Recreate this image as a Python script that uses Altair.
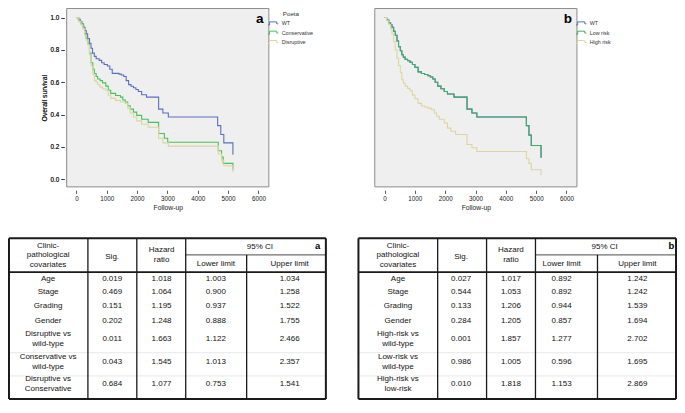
import altair as alt
import pandas as pd

# ---------------- Kaplan-Meier curves ----------------
a_wt_t = [0, 60, 120, 180, 237, 280, 323, 370, 430, 480, 530, 590, 650, 750, 830, 914, 1020, 1100, 1180, 1400,
          1480, 1560, 1640, 1720, 1800, 1880, 1960, 2040, 2150, 2310, 2710, 2850, 3030, 4656, 4760, 4860, 5160]
a_wt_s = [1.0, 0.99, 0.975, 0.96, 0.94, 0.92, 0.90, 0.87, 0.84, 0.81, 0.78, 0.76, 0.745, 0.735, 0.72, 0.71, 0.70, 0.68, 0.655, 0.65,
          0.645, 0.635, 0.61, 0.585, 0.575, 0.566, 0.555, 0.543, 0.523, 0.508, 0.434, 0.41, 0.385, 0.332, 0.277, 0.225, 0.152]

a_con_t = [0, 80, 150, 215, 270, 320, 376, 430, 484, 540, 591, 650, 700, 780, 860, 968, 1050, 1130, 1290, 1450,
           1530, 1610, 1690, 1774, 1880, 1989, 2150, 2366, 2710, 2900, 3010, 4677, 4785, 4840, 5160]
a_con_s = [1.0, 0.98, 0.96, 0.94, 0.90, 0.87, 0.84, 0.78, 0.72, 0.68, 0.654, 0.635, 0.62, 0.61, 0.596, 0.576, 0.55, 0.531, 0.518, 0.508,
           0.49, 0.478, 0.455, 0.434, 0.415, 0.395, 0.371, 0.352, 0.283, 0.254, 0.229, 0.176, 0.137, 0.098, 0.059]

a_dis_t = [0, 80, 150, 215, 270, 320, 376, 430, 484, 540, 591, 650, 700, 780, 860, 968, 1050, 1130, 1290, 1450,
           1610, 1690, 1774, 1880, 1989, 2150, 2366, 2710, 2850, 3030, 4677, 4785, 4860, 5160]
a_dis_s = [1.0, 0.975, 0.955, 0.93, 0.89, 0.86, 0.83, 0.77, 0.70, 0.65, 0.61, 0.60, 0.585, 0.57, 0.56, 0.55, 0.52, 0.50, 0.488, 0.478,
           0.469, 0.44, 0.41, 0.385, 0.361, 0.34, 0.322, 0.254, 0.225, 0.205, 0.156, 0.117, 0.084, 0.045]

b_low_t = [0, 70, 140, 200, 247, 300, 355, 410, 462, 520, 570, 620, 677, 760, 839, 920, 1000, 1107, 1215, 1320,
           1430, 1510, 1591, 1670, 1753, 1860, 1968, 2075, 2290, 2720, 2882, 3043, 4677, 4763, 4839, 5161]
b_low_s = [1.0, 0.985, 0.967, 0.955, 0.94, 0.915, 0.89, 0.855, 0.82, 0.795, 0.77, 0.755, 0.742, 0.733, 0.723, 0.71, 0.693, 0.664, 0.654, 0.648,
           0.64, 0.632, 0.62, 0.60, 0.576, 0.56, 0.543, 0.527, 0.508, 0.434, 0.41, 0.385, 0.332, 0.273, 0.209, 0.131]

# WT curve in panel b lies underneath the low-risk curve
b_wt_t = [0, 70, 140, 200, 247, 300, 355, 410, 462, 520, 570, 620, 677, 760, 839, 920, 1000, 1107, 1215, 1320,
          1430, 1510, 1591, 1670, 1753, 1860, 1968, 2075, 2290, 2720, 2882, 3043, 4677, 4763, 4839, 5161]
b_wt_s = [1.0, 0.985, 0.967, 0.955, 0.94, 0.915, 0.89, 0.855, 0.82, 0.795, 0.77, 0.755, 0.742, 0.733, 0.723, 0.71, 0.693, 0.664, 0.654, 0.648,
          0.64, 0.632, 0.62, 0.60, 0.576, 0.56, 0.543, 0.527, 0.508, 0.434, 0.41, 0.385, 0.332, 0.273, 0.209, 0.135]

b_high_t = [0, 70, 140, 200, 247, 300, 355, 410, 462, 520, 570, 620, 677, 760, 839, 920, 1000, 1107, 1215, 1320,
            1430, 1540, 1645, 1720, 1806, 1968, 2075, 2183, 2344, 2720, 2882, 3043, 4677, 4763, 4839, 5161]
b_high_s = [1.0, 0.98, 0.957, 0.93, 0.898, 0.85, 0.80, 0.75, 0.703, 0.66, 0.615, 0.595, 0.576, 0.562, 0.547, 0.52, 0.498, 0.469, 0.453, 0.447,
            0.44, 0.43, 0.41, 0.39, 0.371, 0.348, 0.316, 0.297, 0.277, 0.215, 0.195, 0.172, 0.127, 0.098, 0.059, 0.025]

groups_a = ["WT", "Conservative", "Disruptive"]
groups_b = ["WT", "Low risk", "High risk"]
y_ticks = [0.0, 0.2, 0.4, 0.6, 0.8, 1.0]
x_ticks = [0, 1000, 2000, 3000, 4000, 5000, 6000]

# ---------------- Cox regression tables ----------------
covariates_a = ["Age", "Stage", "Grading", "Gender", "Disruptive vs\nwild-type",
                "Conservative vs\nwild-type", "Disruptive vs\nConservative"]
sig_a = [0.019, 0.469, 0.151, 0.202, 0.011, 0.043, 0.684]
hr_a = [1.018, 1.064, 1.195, 1.248, 1.663, 1.545, 1.077]
lower_a = [1.003, 0.900, 0.937, 0.888, 1.122, 1.013, 0.753]
upper_a = [1.034, 1.258, 1.522, 1.755, 2.466, 2.357, 1.541]

covariates_b = ["Age", "Stage", "Grading", "Gender", "High-risk vs\nwild-type",
                "Low-risk vs\nwild-type", "High-risk vs\nlow-risk"]
sig_b = [0.027, 0.544, 0.133, 0.284, 0.001, 0.986, 0.010]
hr_b = [1.017, 1.053, 1.206, 1.205, 1.857, 1.005, 1.818]
lower_b = [0.892, 0.892, 0.944, 0.857, 1.277, 0.596, 1.153]
upper_b = [1.242, 1.242, 1.539, 1.694, 2.702, 1.695, 2.869]

header_cov = "Clinic-\npathological\ncovariates"
header_sig = "Sig."
header_hr = "Hazard\nratio"
header_ci = "95% CI"
header_lo = "Lower limit"
header_up = "Upper limit"

# ---------------- layout (reference pixels, mapped by scales) ----------------
FONT = "Liberation Sans"
W, H = 669, 392
REF_W, REF_H = 684, 412


def sx(v):
    return v * W / REF_W


def sy(v):
    return v * H / REF_H


LX = alt.Scale(domain=[0, REF_W], range=[0, W], nice=False, zero=False)
LY = alt.Scale(domain=[0, REF_H], range=[0, H], nice=False, zero=False)

T_DOM = [-322, 6345]
S_DOM = [-0.047, 1.056]
PANEL_A = (60, 266.7)
PANEL_B = (375, 581.7)
PANEL_TOP, PANEL_BOT = 0.5, 188

BLUE, GREEN, BEIGE = "#5b6fc2", "#46c257", "#ddd5a2"
GREEN_B = "#3fae63"
SYMBOL = "M-1.9,0.55L-1.3,0.55L-1.3,-0.55L1.3,-0.55L1.3,0.15L1.9,0.15"
TABLE_LH = 9.8  # svg px


def km_frame(names, ts_list, ss_list):
    rows = []
    for n, ts, ss in zip(names, ts_list, ss_list):
        for t, s in zip(ts, ss):
            rows.append({"series": n, "t": t, "s": s})
    return pd.DataFrame(rows)


def km_panel(df, under_df, under_color, names, colors, panel, legend_x):
    xs = alt.Scale(domain=T_DOM, range=[sx(panel[0]), sx(panel[1])], nice=False, zero=False)
    ys = alt.Scale(domain=S_DOM, range=[sy(PANEL_BOT), sy(PANEL_TOP)], nice=False, zero=False)
    out = []
    bg = alt.Chart(pd.DataFrame({"x0": [T_DOM[0]], "x1": [T_DOM[1]], "y0": [S_DOM[0]], "y1": [S_DOM[1]]})).mark_rect(
        fill="#efefef", stroke="#8c8c8c", strokeWidth=1
    ).encode(
        x=alt.X("x0:Q", scale=xs, axis=None), x2="x1:Q",
        y=alt.Y("y0:Q", scale=ys, axis=None), y2="y1:Q",
    )
    out.append(bg)
    if under_df is not None:
        out.append(alt.Chart(under_df).mark_line(interpolate="step-after", strokeWidth=1.1, color=under_color).encode(
            x=alt.X("t:Q", scale=xs, axis=None),
            y=alt.Y("s:Q", scale=ys, axis=None),
        ))
    lines = alt.Chart(df).mark_line(interpolate="step-after", strokeWidth=1.1).encode(
        x=alt.X("t:Q", scale=xs, axis=alt.Axis(
            orient="bottom", offset=sy(191.5) - H, values=x_ticks, format="d",
            tickSize=sy(3.4), labelPadding=sy(2), grid=False, domain=False,
            title="Follow-up", titlePadding=sy(3.5))),
        y=alt.Y("s:Q", scale=ys, axis=alt.Axis(
            orient="left", offset=-sx(57.5), values=y_ticks, format=".1f",
            tickSize=sx(3.4), labelPadding=sx(2.2), grid=False, domain=False,
            title="Overall survival", titlePadding=sx(3))),
        color=alt.Color("series:N", title=None,
                        scale=alt.Scale(domain=names, range=colors),
                        sort=names,
                        legend=alt.Legend(orient="none", legendX=legend_x, legendY=sy(12.5),
                                          symbolType=SYMBOL, symbolSize=30, symbolStrokeWidth=1,
                                          labelFontSize=5.4, labelOffset=5, rowPadding=0.3, padding=0,
                                          labelFont=FONT, labelColor="#333")),
    )
    out.append(lines)
    return out


df_a = km_frame(groups_a, [a_wt_t, a_con_t, a_dis_t], [a_wt_s, a_con_s, a_dis_s])
df_b = km_frame(groups_b[1:], [b_low_t, b_high_t], [b_low_s, b_high_s])
df_b_wt = km_frame(groups_b[:1], [b_wt_t], [b_wt_s])

layers = []
layers += km_panel(df_a, None, None, groups_a, [BLUE, GREEN, BEIGE], PANEL_A, sx(267.5))
layers += km_panel(df_b, df_b_wt, BLUE, groups_b, [BLUE, GREEN_B, BEIGE], PANEL_B, sx(582.5))

# ---------------- table geometry (reference pixels) ----------------
TA_COLS = [1, 81.7, 131.7, 181.7, 244, 325]
TB_COLS = [358.3, 439.3, 489.3, 539.3, 602.7, 683]
TA_TEXT_X = [41, 106.5, 157, 212.5, 288]
TB_TEXT_X = [398.7, 463.3, 514.2, 566, 643.5]
T_TOP, T_SUB, T_HEAD, T_BOT = 242, 259.5, 277.5, 411
ROW_Y = [285, 298, 313.7, 328.7, 348, 371.7, 395.5]
FAINT_Y = [362.3, 386.7]

rule_rows = []
text_rows = []
bold_rows = []


def put_text(x, yc, txt):
    n = txt.count("\n") + 1
    lh_ref = TABLE_LH * REF_H / H
    text_rows.append({"x": x, "y": yc - (n - 1) * lh_ref / 2, "txt": txt})


def add_table(cols, tx, covs, sig, hr, lo, up, letter, ci_x, letter_x):
    x0, x1, x2, x3, x4, x5 = cols

    def rule(a, b, c, d, w, col="#1a1a1a"):
        rule_rows.append({"x": a, "x2": b, "y": c, "y2": d, "w": w, "c": col})
    for fy in FAINT_Y:
        rule(x0, x5, fy, fy, 0.8, "#e2e2e2")
    rule(x3, x5, T_SUB, T_SUB, 1.0, "#4a4a4a")
    for cx in (x1, x2, x3):
        rule(cx, cx, T_TOP, T_BOT, 1.3)
    rule(x4, x4, T_SUB, T_BOT, 1.3)
    rule(x0, x5, T_HEAD, T_HEAD, 1.8)
    rule(x0, x5, T_TOP, T_TOP, 2)
    rule(x0, x5, T_BOT, T_BOT, 2)
    rule(x0, x0, T_TOP, T_BOT, 2)
    rule(x5, x5, T_TOP, T_BOT, 2)

    put_text(tx[0], 260, header_cov)
    put_text(tx[1], 261.5, header_sig)
    put_text(tx[2], 259.3, header_hr)
    put_text(ci_x, 251.5, header_ci)
    put_text(tx[3], 269.5, header_lo)
    put_text(tx[4], 269.5, header_up)
    for i in range(len(covs)):
        vals = [covs[i], f"{sig[i]:.3f}", f"{hr[i]:.3f}", f"{lo[i]:.3f}", f"{up[i]:.3f}"]
        for j, v in enumerate(vals):
            put_text(tx[j], ROW_Y[i], v)
    bold_rows.append({"x": letter_x, "y": 250.5, "txt": letter, "fs": 9.5})


add_table(TA_COLS, TA_TEXT_X, covariates_a, sig_a, hr_a, lower_a, upper_a, "a", 257.5, 316.5)
add_table(TB_COLS, TB_TEXT_X, covariates_b, sig_b, hr_b, lower_b, upper_b, "b", 610, 678.3)

# panel letters
bold_rows.append({"x": 257.5, "y": 12, "txt": "a", "fs": 13.5})
bold_rows.append({"x": 572.5, "y": 11.5, "txt": "b", "fs": 13.5})

rules = alt.Chart(pd.DataFrame(rule_rows)).mark_rule().encode(
    x=alt.X("x:Q", scale=LX, axis=None), x2="x2:Q",
    y=alt.Y("y:Q", scale=LY, axis=None), y2="y2:Q",
    strokeWidth=alt.StrokeWidth("w:Q", scale=None),
    color=alt.Color("c:N", scale=None),
)
texts = alt.Chart(pd.DataFrame(text_rows)).mark_text(
    font=FONT, fontSize=8, lineBreak="\n", lineHeight=TABLE_LH, align="center", baseline="middle", color="#111"
).encode(
    x=alt.X("x:Q", scale=LX, axis=None),
    y=alt.Y("y:Q", scale=LY, axis=None),
    text="txt:N",
)
bolds = alt.Chart(pd.DataFrame(bold_rows)).mark_text(
    font=FONT, fontWeight="bold", align="center", baseline="middle", color="#000"
).encode(
    x=alt.X("x:Q", scale=LX, axis=None),
    y=alt.Y("y:Q", scale=LY, axis=None),
    text="txt:N",
    size=alt.Size("fs:Q", scale=None),
)
poeta = alt.Chart(pd.DataFrame({"x": [281], "y": [6], "txt": ["Poeta"]})).mark_text(
    font=FONT, fontSize=6.2, align="left", baseline="middle", color="#333"
).encode(
    x=alt.X("x:Q", scale=LX, axis=None),
    y=alt.Y("y:Q", scale=LY, axis=None),
    text="txt:N",
)

layers += [rules, texts, bolds, poeta]

chart = alt.layer(*layers).resolve_scale(
    x="independent", y="independent", color="independent", strokeWidth="independent", size="independent"
).properties(
    width=W, height=H, padding=0, autosize=alt.AutoSizeParams(type="none")
).configure_view(stroke=None).configure_axis(
    labelFont=FONT, titleFont=FONT, labelFontSize=6.3, titleFontSize=6.8,
    titleFontWeight="normal", labelColor="#222", titleColor="#222", tickColor="#333", tickWidth=0.8
)

chart.save("out.html", embed_options={"renderer": "svg", "actions": False})
